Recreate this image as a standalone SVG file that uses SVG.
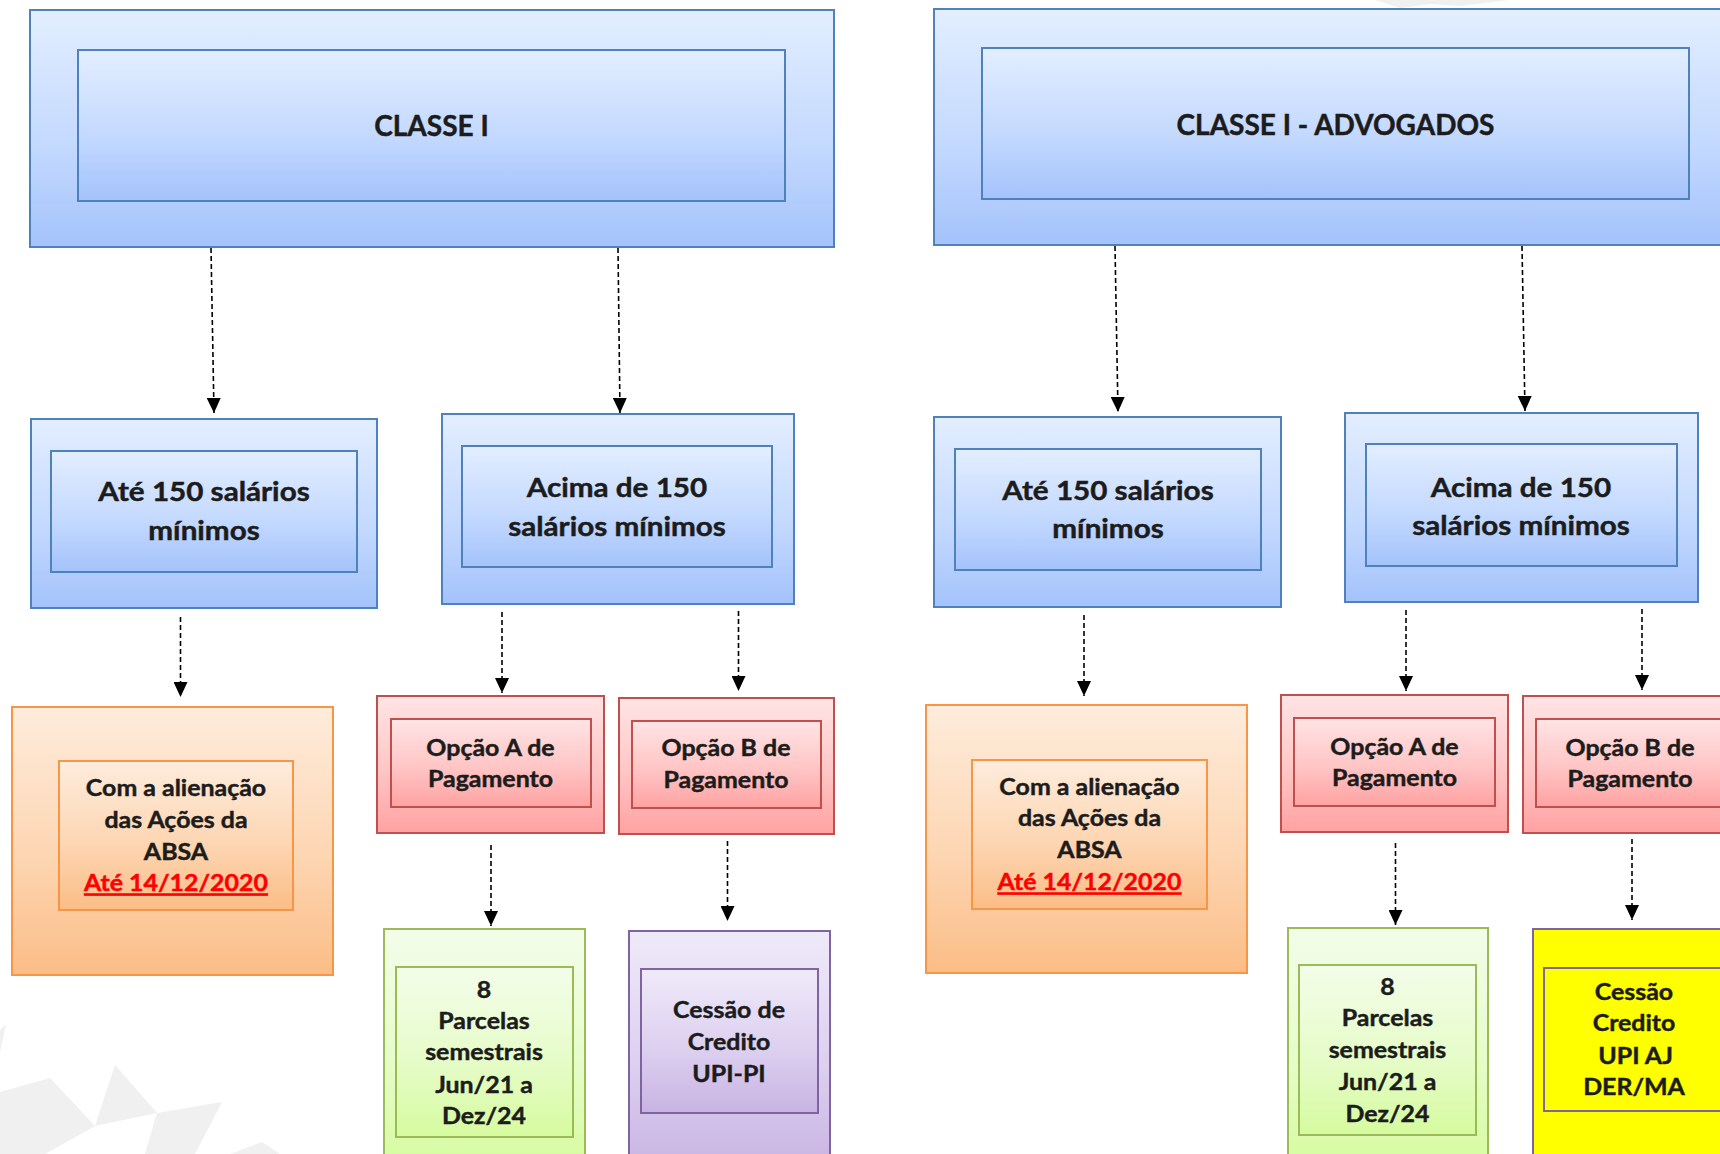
<svg xmlns="http://www.w3.org/2000/svg" width="1720" height="1154" viewBox="0 0 1720 1154">
<defs>
<linearGradient id="gBlue" x1="0" y1="0" x2="0" y2="1"><stop offset="0" stop-color="#e3eeff"/><stop offset="0.55" stop-color="#c5daff"/><stop offset="1" stop-color="#a4c3fb"/></linearGradient>
<linearGradient id="gRed" x1="0" y1="0" x2="0" y2="1"><stop offset="0" stop-color="#ffe4e5"/><stop offset="0.55" stop-color="#ffc5c5"/><stop offset="1" stop-color="#ffa2a2"/></linearGradient>
<linearGradient id="gOrange" x1="0" y1="0" x2="0" y2="1"><stop offset="0" stop-color="#feecdc"/><stop offset="0.55" stop-color="#fdd6b3"/><stop offset="1" stop-color="#fbbd86"/></linearGradient>
<linearGradient id="gGreen" x1="0" y1="0" x2="0" y2="1"><stop offset="0" stop-color="#f3fde9"/><stop offset="0.55" stop-color="#e6fcc9"/><stop offset="1" stop-color="#d6fb9f"/></linearGradient>
<linearGradient id="gPurple" x1="0" y1="0" x2="0" y2="1"><stop offset="0" stop-color="#efeaf9"/><stop offset="0.55" stop-color="#ddd0f0"/><stop offset="1" stop-color="#c8b3e3"/></linearGradient>
<marker id="arr" markerUnits="userSpaceOnUse" markerWidth="15" markerHeight="14" refX="15" refY="7" orient="auto"><path d="M0,0 L15,7 L0,14 z" fill="#000"/></marker>
</defs>
<style>
.blue{fill:url(#gBlue);stroke:#4f81bd;stroke-width:2}
.red{fill:url(#gRed);stroke:#c0504d;stroke-width:2}
.orange{fill:url(#gOrange);stroke:#f79646;stroke-width:2}
.green{fill:url(#gGreen);stroke:#9bbb59;stroke-width:2}
.purple{fill:url(#gPurple);stroke:#8064a2;stroke-width:2}
.yellow{fill:#ffff00;stroke:#8064a2;stroke-width:2}
.t{font-family:Lato,"Open Sans","Liberation Sans",sans-serif;font-weight:bold;fill:#1c1c1c;stroke:#1c1c1c;stroke-width:0.45;text-anchor:middle}
.t1{font-size:28px}
.t2{font-size:26px}
.t3{font-size:23.3px}
.due{fill:#ff0000;stroke:#ff0000;text-decoration:underline}
.con{fill:none;stroke:#000;stroke-width:1.6;stroke-dasharray:5 3;marker-end:url(#arr)}
.wm{fill:#f0f0f0}
</style>
<rect width="1720" height="1154" fill="#ffffff"/>
<g id="watermark">
<polygon class="wm" points="0,1030 6,1024 0,1052"/>
<polygon class="wm" points="0,1092 50,1078 95,1126 45,1154 0,1154"/>
<polygon class="wm" points="95,1126 115,1065 157,1113" fill="#ececec"/>
<polygon class="wm" points="157,1113 222,1102 195,1154 145,1154"/>
<polygon class="wm" points="230,1154 262,1142 280,1154"/>
<polygon class="wm" points="1375,0 1400,8 1430,4 1460,6 1510,0" fill="#f3f3f3"/>
</g>
<g id="classe1">
<rect class="blue" x="30" y="10" width="804" height="237"/>
<rect class="blue" x="78" y="50" width="707" height="151"/>
<text class="t t1" x="431.5" y="136">CLASSE I</text>
</g>
<g id="classe1adv">
<rect class="blue" x="934" y="9" width="800" height="236"/>
<rect class="blue" x="982" y="48" width="707" height="151"/>
<text class="t t1" x="1335.5" y="135">CLASSE I - ADVOGADOS</text>
</g>
<g id="ate150L">
<rect class="blue" x="31" y="419" width="346" height="189"/>
<rect class="blue" x="51" y="451" width="306" height="121"/>
<g transform="matrix(1.14 0 0 1 -28.56 0)">
<text class="t t2" x="204" y="501.5">Até 150 salários</text>
<text class="t t2" x="204" y="540">mínimos</text>
</g>
</g>
<g id="acima150L">
<rect class="blue" x="442" y="414" width="352" height="190"/>
<rect class="blue" x="462" y="446" width="310" height="121"/>
<g transform="matrix(1.14 0 0 1 -86.38 0)">
<text class="t t2" x="617" y="497.5">Acima de 150</text>
<text class="t t2" x="617" y="536">salários mínimos</text>
</g>
</g>
<g id="absaL">
<rect class="orange" x="12" y="707" width="321" height="268"/>
<rect class="orange" x="59" y="761" width="234" height="149"/>
<g transform="matrix(1.07 0 0 1 -12.32 0)">
<text class="t t3" x="176" y="796.5">Com a alienação</text>
<text class="t t3" x="176" y="828">das Ações da</text>
<text class="t t3" x="176" y="860">ABSA</text>
<text class="t t3 due" x="176" y="891.5">Até 14/12/2020</text>
</g>
</g>
<g id="opcaoAL">
<rect class="red" x="377" y="696" width="227" height="137"/>
<rect class="red" x="391" y="719" width="200" height="88"/>
<g transform="matrix(1.07 0 0 1 -34.335 0)">
<text class="t t3" x="490.5" y="756">Opção A de</text>
<text class="t t3" x="490.5" y="787.5">Pagamento</text>
</g>
</g>
<g id="opcaoBL">
<rect class="red" x="619" y="698" width="215" height="136"/>
<rect class="red" x="632" y="721" width="189" height="87"/>
<g transform="matrix(1.07 0 0 1 -50.82 0)">
<text class="t t3" x="726" y="756.5">Opção B de</text>
<text class="t t3" x="726" y="788">Pagamento</text>
</g>
</g>
<g id="parcelasL">
<rect class="green" x="384" y="929" width="201" height="240"/>
<rect class="green" x="396" y="967" width="177" height="170"/>
<g transform="matrix(1.07 0 0 1 -33.88 0)">
<text class="t t3" x="484" y="998">8</text>
<text class="t t3" x="484" y="1029.5">Parcelas</text>
<text class="t t3" x="484" y="1060.5">semestrais</text>
<text class="t t3" x="484" y="1093">Jun/21 a</text>
<text class="t t3" x="484" y="1124">Dez/24</text>
</g>
</g>
<g id="cessaoL">
<rect class="purple" x="629" y="931" width="201" height="240"/>
<rect class="purple" x="641" y="969" width="177" height="144"/>
<g transform="matrix(1.07 0 0 1 -51.03 0)">
<text class="t t3" x="729" y="1018">Cessão de</text>
<text class="t t3" x="729" y="1050">Credito</text>
<text class="t t3" x="729" y="1082">UPI-PI</text>
</g>
</g>
<g id="ate150R">
<rect class="blue" x="934" y="417" width="347" height="190"/>
<rect class="blue" x="955" y="449" width="306" height="121"/>
<g transform="matrix(1.14 0 0 1 -155.12 0)">
<text class="t t2" x="1108" y="500">Até 150 salários</text>
<text class="t t2" x="1108" y="538.5">mínimos</text>
</g>
</g>
<g id="acima150R">
<rect class="blue" x="1345" y="413" width="353" height="189"/>
<rect class="blue" x="1366" y="444" width="311" height="122"/>
<g transform="matrix(1.14 0 0 1 -212.94 0)">
<text class="t t2" x="1521" y="496.5">Acima de 150</text>
<text class="t t2" x="1521" y="535">salários mínimos</text>
</g>
</g>
<g id="absaR">
<rect class="orange" x="926" y="705" width="321" height="268"/>
<rect class="orange" x="972" y="760" width="235" height="149"/>
<g transform="matrix(1.07 0 0 1 -76.265 0)">
<text class="t t3" x="1089.5" y="795">Com a alienação</text>
<text class="t t3" x="1089.5" y="826.5">das Ações da</text>
<text class="t t3" x="1089.5" y="858.5">ABSA</text>
<text class="t t3 due" x="1089.5" y="890.5">Até 14/12/2020</text>
</g>
</g>
<g id="opcaoAR">
<rect class="red" x="1281" y="695" width="227" height="137"/>
<rect class="red" x="1294" y="718" width="201" height="88"/>
<g transform="matrix(1.07 0 0 1 -97.615 0)">
<text class="t t3" x="1394.5" y="755">Opção A de</text>
<text class="t t3" x="1394.5" y="786.5">Pagamento</text>
</g>
</g>
<g id="opcaoBR">
<rect class="red" x="1523" y="696" width="215" height="137"/>
<rect class="red" x="1536" y="719" width="188" height="88"/>
<g transform="matrix(1.07 0 0 1 -114.1 0)">
<text class="t t3" x="1630" y="756">Opção B de</text>
<text class="t t3" x="1630" y="787.5">Pagamento</text>
</g>
</g>
<g id="parcelasR">
<rect class="green" x="1288" y="928" width="200" height="240"/>
<rect class="green" x="1299" y="965" width="177" height="170"/>
<g transform="matrix(1.07 0 0 1 -97.125 0)">
<text class="t t3" x="1387.5" y="995">8</text>
<text class="t t3" x="1387.5" y="1026.5">Parcelas</text>
<text class="t t3" x="1387.5" y="1058.5">semestrais</text>
<text class="t t3" x="1387.5" y="1090">Jun/21 a</text>
<text class="t t3" x="1387.5" y="1122.5">Dez/24</text>
</g>
</g>
<g id="cessaoR">
<rect class="yellow" x="1533" y="929" width="201" height="240"/>
<rect class="yellow" x="1544" y="968" width="178" height="143"/>
<g transform="matrix(1.07 0 0 1 -114.38 0)">
<text class="t t3" x="1634" y="1000">Cessão</text>
<text class="t t3" x="1634" y="1031.5">Credito</text>
<text class="t t3" x="1635.5" y="1064">UPI AJ</text>
<text class="t t3" x="1634" y="1095.5">DER/MA</text>
</g>
</g>
<g id="connectors">
<line class="con" x1="211" y1="248" x2="214" y2="413"/>
<line class="con" x1="618" y1="248" x2="620" y2="413"/>
<line class="con" x1="180.5" y1="617" x2="180.5" y2="697"/>
<line class="con" x1="502" y1="612" x2="502" y2="693"/>
<line class="con" x1="738.5" y1="611" x2="738.5" y2="691"/>
<line class="con" x1="491" y1="845" x2="491" y2="926"/>
<line class="con" x1="727.5" y1="841" x2="727.5" y2="921"/>
<line class="con" x1="1115" y1="246" x2="1118" y2="412"/>
<line class="con" x1="1522" y1="246" x2="1525" y2="411"/>
<line class="con" x1="1084" y1="615" x2="1084" y2="696"/>
<line class="con" x1="1406" y1="610" x2="1406" y2="691"/>
<line class="con" x1="1642" y1="609" x2="1642" y2="690"/>
<line class="con" x1="1395.5" y1="843" x2="1395.5" y2="925"/>
<line class="con" x1="1632" y1="839" x2="1632" y2="920"/>
</g>
</svg>
